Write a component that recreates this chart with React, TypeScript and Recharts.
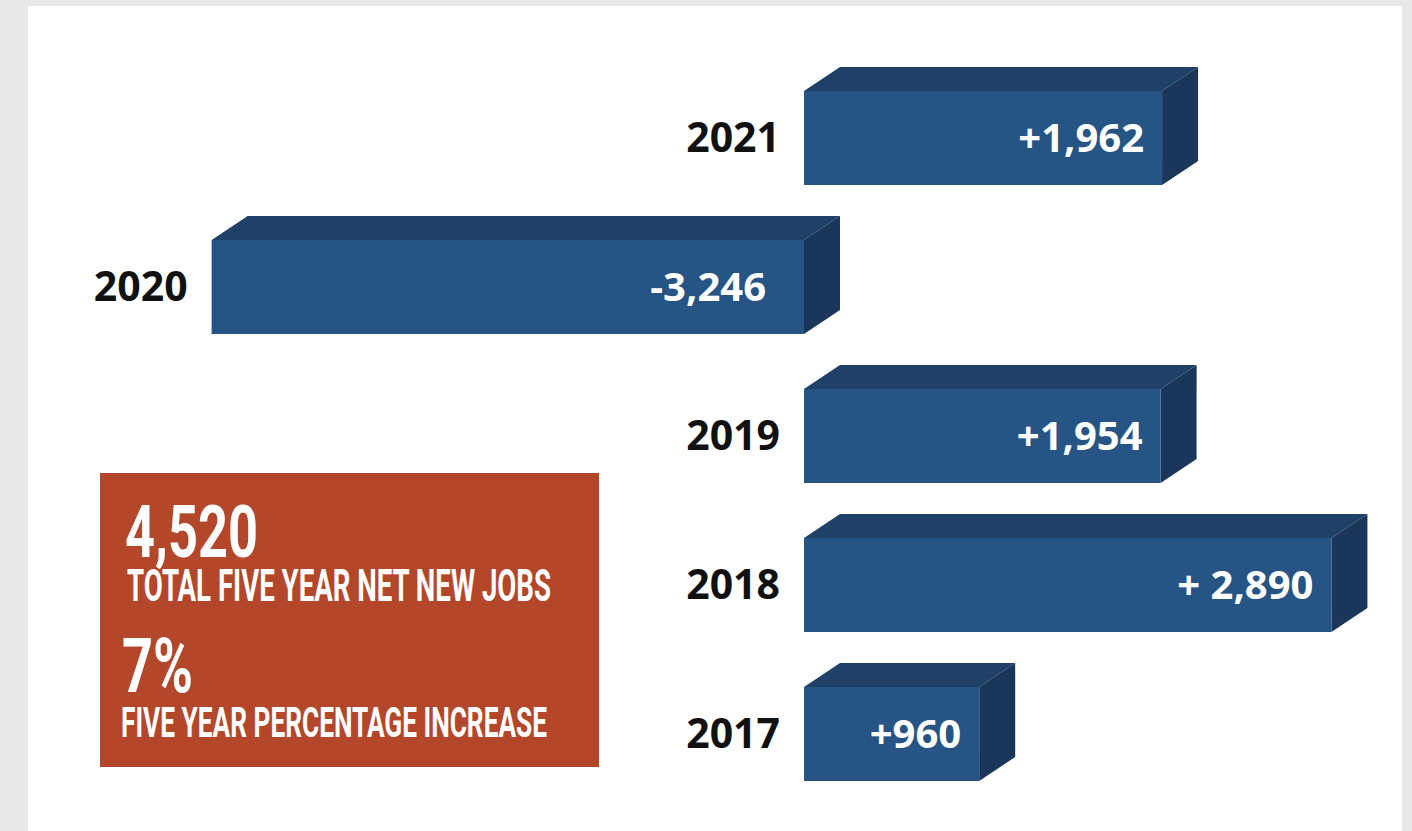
import React from 'react';
import { BarChart, Bar, XAxis, YAxis } from 'recharts';

const years = ['2021', '2020', '2019', '2018', '2017'];
const netJobs = [1962, -3246, 1954, 2890, 960];
const valueLabels = ['+1,962', '-3,246', '+1,954', '+ 2,890', '+960'];

const totalValue = '4,520';
const totalLabel = 'TOTAL FIVE YEAR NET NEW JOBS';
const pctValue = '7%';
const pctLabel = 'FIVE YEAR PERCENTAGE INCREASE';

const data = years.map((y, i) => ({ year: y, value: netJobs[i], label: valueLabels[i] }));

const FRONT = '#255485';
const TOP = '#1f4168';
const SIDE = '#1a365a';
const DX = 36;
const DY = 24;
const LABEL_FONT = '"Open Sans", "DejaVu Sans", sans-serif';

const Bar3D = (props: any) => {
  const { x, y, width, height, payload } = props;
  const x0 = Math.min(x, x + width);
  const w = Math.abs(width);
  const x1 = x0 + w;
  const y0 = Math.min(y, y + height);
  const h = Math.abs(height);
  const cy = y0 + h / 2;
  const neg = payload.value < 0;
  return (
    <g>
      <polygon
        points={`${x0},${y0} ${x0 + DX},${y0 - DY} ${x1 + DX},${y0 - DY} ${x1},${y0}`}
        fill={TOP}
      />
      <polygon
        points={`${x1},${y0} ${x1 + DX},${y0 - DY} ${x1 + DX},${y0 + h - DY} ${x1},${y0 + h}`}
        fill={SIDE}
      />
      <rect x={x0} y={y0} width={w} height={h} fill={FRONT} />
      <text
        x={x1 - (neg ? 38 : 18)}
        y={cy + 14}
        textAnchor="end"
        fill="#ffffff"
        fontFamily={LABEL_FONT}
        fontWeight={700}
        fontSize={40}
      >
        {payload.label}
      </text>
      <text
        x={x0 - 24}
        y={cy + 14}
        textAnchor="end"
        fill="#111111"
        fontFamily={LABEL_FONT}
        fontWeight={700}
        fontSize={41}
      >
        {payload.year}
      </text>
    </g>
  );
};

const COND = 'Roboto, "DejaVu Sans", sans-serif';

export default function App() {
  return (
    <div style={{ position: 'absolute', left: 0, top: 0, width: 1412, height: 831, background: '#e8e8e8', overflow: 'hidden' }}>
      <div style={{ position: 'absolute', left: 28, top: 6, width: 1374, height: 825, background: '#ffffff' }} />
      <div style={{ position: 'absolute', left: 0, top: 0 }}>
        <BarChart
          width={1412}
          height={831}
          layout="vertical"
          data={data}
          margin={{ top: 63, right: 60.5, bottom: 23, left: 74 }}
        >
          <XAxis type="number" domain={[-4000, 3000]} hide />
          <YAxis type="category" dataKey="year" hide />
          <Bar dataKey="value" barSize={94} shape={Bar3D} isAnimationActive={false} />
        </BarChart>
      </div>
      <svg style={{ position: 'absolute', left: 0, top: 0 }} width={1412} height={831}>
        <rect x={100} y={473} width={499} height={294} fill="#b4462a" />
        <text x={125} y={557} fill="#fff" fontFamily={COND} fontWeight={700} fontSize={73} textLength={133} lengthAdjust="spacingAndGlyphs">
          {totalValue}
        </text>
        <text x={127} y={601} fill="#fff" fontFamily={COND} fontWeight={700} fontSize={44} textLength={424} lengthAdjust="spacingAndGlyphs">
          {totalLabel}
        </text>
        <text x={122} y={692} fill="#fff" fontFamily={COND} fontWeight={700} fontSize={76} textLength={71} lengthAdjust="spacingAndGlyphs">
          {pctValue}
        </text>
        <text x={121} y={737} fill="#fff" fontFamily={COND} fontWeight={700} fontSize={42} textLength={426} lengthAdjust="spacingAndGlyphs">
          {pctLabel}
        </text>
      </svg>
    </div>
  );
}
